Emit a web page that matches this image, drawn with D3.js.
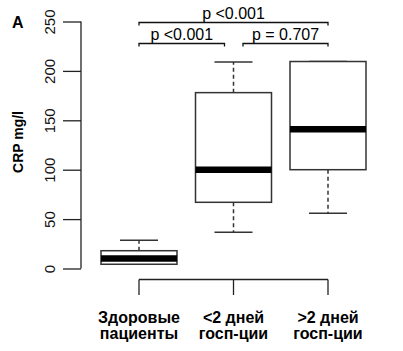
<!DOCTYPE html>
<html><head><meta charset="utf-8">
<script src="https://cdn.jsdelivr.net/npm/d3@7/dist/d3.min.js"></script>
<style>
body{margin:0;background:#fff;}
text{font-family:"Liberation Sans Narrow","Liberation Sans",sans-serif;}
</style></head>
<body><svg id="c" width="403" height="351"></svg>
<script>
const categories = ["Здоровые\nпациенты", "<2 дней\nгосп-ции", ">2 дней\nгосп-ции"];
const whiskerLow = [4.3, 36.6, 56];
const q1 = [4.3, 67, 100];
const median = [10.1, 100, 141];
const q3 = [18, 178, 209.5];
const whiskerHigh = [28.5, 209, 209.5];
const yTicks = [0, 50, 100, 150, 200, 250];
const comparisons = [
  {from: 0, to: 2, label: "p <0.001", level: 0},
  {from: 0, to: 1, label: "p <0.001", level: 1},
  {from: 1, to: 2, label: "p = 0.707", level: 1}
];

const svg = d3.select("#c");
const y = d3.scaleLinear().domain([0, 250]).range([268.5, 21.5]);
const x = d3.scalePoint().domain(d3.range(categories.length)).range([139, 328]);
const boxHalf = 38, capHalf = 19;
const lineCol = "#333";

// y axis
const yAxis = svg.append("g").attr("transform", "translate(81,0)")
  .call(d3.axisLeft(y).tickValues(yTicks).tickSize(18).tickSizeOuter(0));
yAxis.select(".domain").attr("stroke", "#222").attr("stroke-width", 1.3).attr("d", `M0,${y(250)}V${y(0)}`);
yAxis.selectAll(".tick line").attr("stroke", "#222").attr("stroke-width", 1.3);
yAxis.selectAll(".tick text")
  .attr("transform", "rotate(-90)")
  .attr("x", 0).attr("y", -26).attr("dy", 0)
  .attr("text-anchor", "middle")
  .style("font-size", "15px").attr("fill", "#111")
  .style("font-family", '"Liberation Sans Narrow","Liberation Sans",sans-serif');

// y label
svg.append("text").attr("transform", "translate(23,142) rotate(-90)")
  .attr("text-anchor", "middle").style("font-size", "14px").style("font-weight", "bold")
  .text("CRP mg/l");

// panel letter
svg.append("text").attr("x", 12).attr("y", 28).style("font-size", "16px").style("font-weight", "bold").text("A");

// x axis
const xg = svg.append("g");
xg.append("line").attr("x1", x(0)).attr("x2", x(2)).attr("y1", 279.5).attr("y2", 279.5).attr("stroke", "#222").attr("stroke-width", 1.3);
xg.selectAll("line.tk").data(d3.range(categories.length)).join("line").attr("class", "tk")
  .attr("x1", d => x(d)).attr("x2", d => x(d)).attr("y1", 279.5).attr("y2", 295).attr("stroke", "#222").attr("stroke-width", 1.3);
xg.selectAll("text").data(categories).join("text")
  .attr("x", (d, i) => x(i)).attr("y", 323).attr("text-anchor", "middle")
  .style("font-size", "16px").style("font-weight", "bold")
  .each(function(d) {
    const lines = d.split("\n");
    d3.select(this).selectAll("tspan").data(lines).join("tspan")
      .attr("x", d3.select(this).attr("x")).attr("dy", (l, j) => j === 0 ? 0 : 15.5).text(l => l);
  });

// boxes
const idx = d3.range(categories.length);
const g = svg.append("g");
idx.forEach(i => {
  const cx = x(i);
  // whiskers
  if (whiskerHigh[i] > q3[i]) {
    g.append("line").attr("x1", cx).attr("x2", cx).attr("y1", y(q3[i])).attr("y2", y(whiskerHigh[i]))
      .attr("stroke", lineCol).attr("stroke-width", 1.5).attr("stroke-dasharray", "4,3");
  }
  g.append("line").attr("x1", cx - capHalf).attr("x2", cx + capHalf).attr("y1", y(whiskerHigh[i])).attr("y2", y(whiskerHigh[i]))
    .attr("stroke", lineCol).attr("stroke-width", 1.5);
  if (whiskerLow[i] < q1[i]) {
    g.append("line").attr("x1", cx).attr("x2", cx).attr("y1", y(q1[i])).attr("y2", y(whiskerLow[i]))
      .attr("stroke", lineCol).attr("stroke-width", 1.5).attr("stroke-dasharray", "4,3");
    g.append("line").attr("x1", cx - capHalf).attr("x2", cx + capHalf).attr("y1", y(whiskerLow[i])).attr("y2", y(whiskerLow[i]))
      .attr("stroke", lineCol).attr("stroke-width", 1.5);
  }
  g.append("rect").attr("x", cx - boxHalf).attr("width", 2 * boxHalf)
    .attr("y", y(q3[i])).attr("height", y(q1[i]) - y(q3[i]))
    .attr("fill", "#fff").attr("stroke", lineCol).attr("stroke-width", 1.5);
  g.append("line").attr("x1", cx - boxHalf).attr("x2", cx + boxHalf).attr("y1", y(median[i])).attr("y2", y(median[i]))
    .attr("stroke", "#000").attr("stroke-width", 6.5);
});

// significance brackets
const levelY = [22.5, 43.5];
comparisons.forEach(c => {
  const x1 = x(c.from) + (c.level === 1 && c.from > 0 ? 9.5 : 0);
  const x2 = x(c.to) - (c.level === 1 && c.to < 2 ? 9 : 0);
  const yy = levelY[c.level];
  svg.append("path").attr("d", `M${x1},${yy + 3}V${yy}H${x2}V${yy + 3}`)
    .attr("fill", "none").attr("stroke", "#111").attr("stroke-width", 1.3);
  svg.append("text").attr("x", (x1 + x2) / 2).attr("y", yy - 4).attr("text-anchor", "middle")
    .style("font-size", "16px").text(c.label);
});
</script></body></html>
